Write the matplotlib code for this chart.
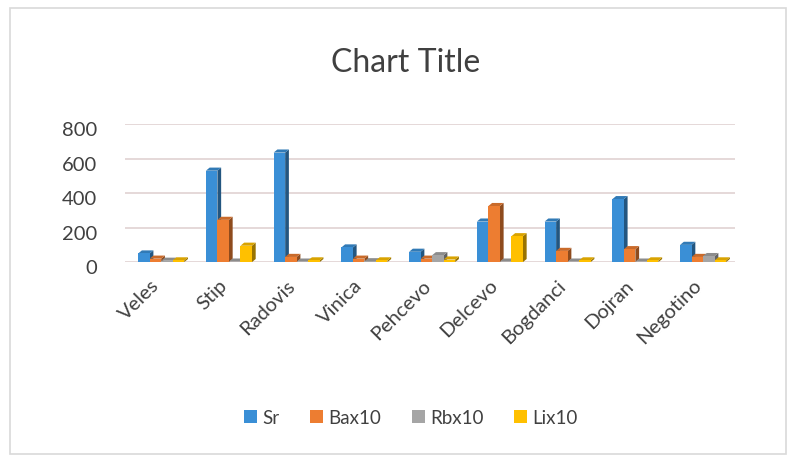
import matplotlib.pyplot as plt
import matplotlib.transforms as mtransforms
from matplotlib.patches import Polygon, Rectangle, Patch
import matplotlib.colors as mcolors

plt.rcParams['font.family'] = ['Lato', 'DejaVu Sans']

towns = ['Veles', 'Stip', 'Radovis', 'Vinica', 'Pehcevo', 'Delcevo',
         'Bogdanci', 'Dojran', 'Negotino']
sr = [50, 530, 635, 85, 60, 235, 235, 365, 100]
ba_x10 = [20, 245, 30, 20, 20, 325, 65, 75, 30]
rb_x10 = [8, 3, 3, 5, 40, 3, 3, 3, 35]
li_x10 = [10, 95, 10, 10, 15, 150, 10, 10, 10]
series_names = ['Sr', 'Bax10', 'Rbx10', 'Lix10']
series = [sr, ba_x10, rb_x10, li_x10]
colors = ['#3a8fd6', '#ed7d31', '#a5a5a5', '#ffc000']

fig = plt.figure(figsize=(7.98, 4.6), dpi=100)
fig.patches.append(Rectangle((0.013, 0.01), 0.972, 0.97, transform=fig.transFigure,
                             fill=False, edgecolor='#d9d9d9', lw=1.2))
ax = fig.add_axes([0.157, 0.428, 0.764, 0.3])

w = 0.17      # bar width
d = 0.055     # depth offset (x)
dy = 18       # depth offset (y, data units)

def darker(c, f):
    r, g, b = mcolors.to_rgb(c)
    return (r * f, g * f, b * f)

for k, (vals, c) in enumerate(zip(series, colors)):
    for i, v in enumerate(vals):
        x = i - 0.36 + k * w
        ax.add_patch(Polygon([(x + w, 0), (x + w + d, dy), (x + w + d, v + dy), (x + w, v)],
                             closed=True, facecolor=darker(c, 0.6), edgecolor='none', zorder=3))
        ax.add_patch(Polygon([(x, v), (x + w, v), (x + w + d, v + dy), (x + d, v + dy)],
                             closed=True, facecolor=darker(c, 0.85), edgecolor='none', zorder=3))
        ax.add_patch(Rectangle((x, 0), w, v, facecolor=c, edgecolor='none', zorder=4))

ax.set_xlim(-0.55, 8.45)
ax.set_ylim(0, 800)
ax.set_yticks([0, 200, 400, 600, 800])
ax.set_xticks(range(len(towns)))
ax.set_xticklabels(towns, rotation=45, ha='right', rotation_mode='anchor',
                   fontsize=14.5, color='#404040')
ax.tick_params(axis='y', labelsize=14.5, labelcolor='#404040', length=0, pad=20)
ax.tick_params(axis='x', length=0, pad=10)
ax.grid(axis='y', color='#e3d6d6', lw=1.3, zorder=0)
for s in ax.spines.values():
    s.set_visible(False)

# nudge the labels the way the perspective floor places them
shift_x = mtransforms.ScaledTranslation(-12 / 100, 0, fig.dpi_scale_trans)
for lbl in ax.get_xticklabels():
    lbl.set_transform(lbl.get_transform() + shift_x)
shift_y = mtransforms.ScaledTranslation(0, -4 / 100, fig.dpi_scale_trans)
for lbl in ax.get_yticklabels():
    lbl.set_transform(lbl.get_transform() + shift_y)

fig.text(0.508, 0.862, 'Chart Title', ha='center', va='center', fontsize=23, color='#404040')

handles = [Patch(facecolor=c, edgecolor='none') for c in colors]
fig.legend(handles, series_names, loc='center', bbox_to_anchor=(0.515, 0.09), ncol=4,
           frameon=False, fontsize=13.5, handlelength=0.7, handleheight=0.7,
           handletextpad=0.3, columnspacing=1.6, labelcolor='#404040')

fig.savefig('out.png', dpi=100)
